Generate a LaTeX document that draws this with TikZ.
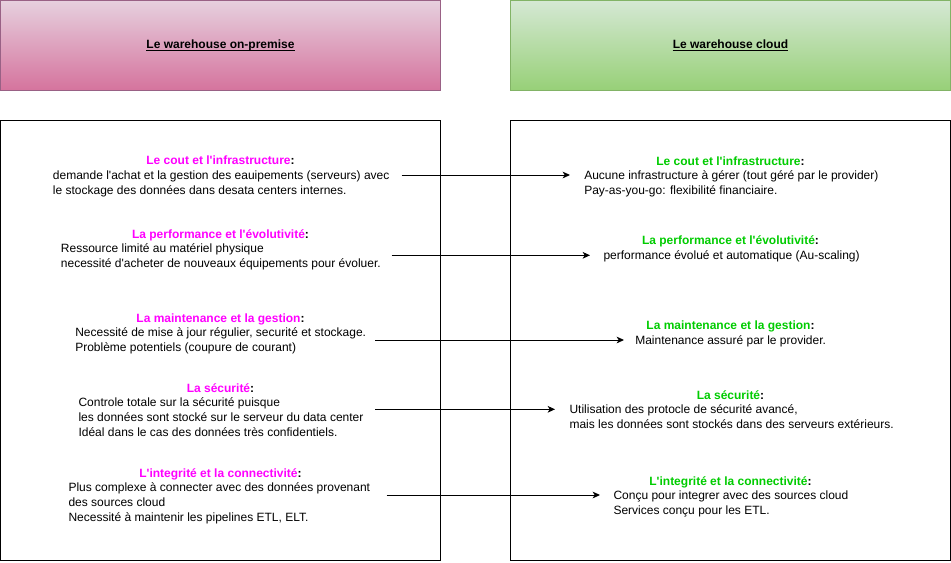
\documentclass[tikz,border=0pt]{standalone}
\usepackage{fontspec}
\setmainfont{Liberation Sans}[Ligatures=TeXOff]
\usetikzlibrary{arrows.meta,calc}
\definecolor{pinktop}{HTML}{E6D0DE}
\definecolor{pinkbot}{HTML}{D5739D}
\definecolor{pinkline}{HTML}{996185}
\definecolor{greentop}{HTML}{D5E8D4}
\definecolor{greenbot}{HTML}{97D077}
\definecolor{greenline}{HTML}{82B366}
\definecolor{lmag}{HTML}{FF00FF}
\definecolor{rgreen}{HTML}{00CC00}
\tikzset{
  txt/.style={inner sep=0pt, font=\fontsize{9pt}{11.25pt}\selectfont},
  hdrbox/.style={rectangle, minimum width=330pt, minimum height=67.5pt, inner sep=0pt, line width=0.75pt},
  bigbox/.style={rectangle, draw=black, fill=white, minimum width=330pt, minimum height=330pt, inner sep=0pt, line width=0.75pt},
  title/.style={txt, anchor=base, font=\fontsize{9pt}{11.25pt}\selectfont\bfseries},
  head/.style={txt, anchor=base, font=\fontsize{9pt}{11.25pt}\selectfont\bfseries},
  body/.style={txt, anchor=base west},
  uline/.style={line width=0.75pt, draw=black},
  conn/.style={line width=0.75pt, draw=black, -{Stealth[length=5.5pt,width=5pt,inset=1.5pt]}}
}
\newcommand{\lines}[1]{\begin{tabular}[t]{@{}l@{}}#1\end{tabular}}
\begin{document}
\begin{tikzpicture}[x=0.75pt,y=-0.75pt]
\useasboundingbox (0,0) rectangle (951,562);

% header boxes
\node[hdrbox, draw=pinkline, top color=pinktop, bottom color=pinkbot] (hl) at (220.5,45.5) {};
\node[hdrbox, draw=greenline, top color=greentop, bottom color=greenbot] (hr) at (730.5,45.5) {};
\node[title] (tl) at (220.5,48.5) {Le warehouse on-premise};
\node[title] (tr) at (730.5,48.5) {Le warehouse cloud};
\draw[uline] ($(tl.base west)+(0,1.8)$) -- ($(tl.base east)+(0,1.8)$);
\draw[uline] ($(tr.base west)+(0,1.8)$) -- ($(tr.base east)+(0,1.8)$);

% big boxes
\node[bigbox] (bl) at (220.5,340.5) {};
\node[bigbox] (br) at (730.5,340.5) {};

% left column
\node[head] (lh1) at (220.5,164.7) {\textcolor{lmag}{Le cout et l'infrastructure}:};
\node[body] (lb1) at (52.7,179) {\lines{demande l'achat et la gestion des eauipements (serveurs) avec\\le stockage des données dans desata centers internes.}};
\node[head] (lh2) at (220.5,238.7) {\textcolor{lmag}{La performance et l'évolutivité}:};
\node[body] (lb2) at (60.7,252.7) {\lines{Ressource limité au matériel physique\\necessité d'acheter de nouveaux équipements pour évoluer.}};
\node[head] (lh3) at (220.5,322.7) {\textcolor{lmag}{La maintenance et la gestion}:};
\node[body] (lb3) at (75,336.7) {\lines{Necessité de mise à jour régulier, securité et stockage.\\Problème potentiels (coupure de courant)}};
\node[head] (lh4) at (220.5,392.3) {\textcolor{lmag}{La sécurité}:};
\node[body] (lb4) at (78.3,406.7) {\lines{Controle totale sur la sécurité puisque\\les données sont stocké sur le serveur du data center\\Idéal dans le cas des données très confidentiels.}};
\node[head] (lh5) at (220.5,477.3) {\textcolor{lmag}{L'integrité et la connectivité}:};
\node[body] (lb5) at (68.3,491.7) {\lines{Plus complexe à connecter avec des données provenant\\des sources cloud\\Necessité à maintenir les pipelines ETL, ELT.}};

% right column
\node[head] (rh1) at (730.5,165) {\textcolor{rgreen}{Le cout et l'infrastructure}:};
\node[body] (rb1) at (584,179) {\lines{Aucune infrastructure à gérer (tout géré par le provider)\\Pay-as-you-go: flexibilité financiaire.}};
\node[head] (rh2) at (730.5,244) {\textcolor{rgreen}{La performance et l'évolutivité}:};
\node[body] (rb2) at (603.3,259) {\lines{performance évolué et automatique (Au-scaling)}};
\node[head] (rh3) at (730.5,329.3) {\textcolor{rgreen}{La maintenance et la gestion}:};
\node[body] (rb3) at (635,344.3) {\lines{Maintenance assuré par le provider.}};
\node[head] (rh4) at (730.5,399.3) {\textcolor{rgreen}{La sécurité}:};
\node[body] (rb4) at (569.3,413.3) {\lines{Utilisation des protocle de sécurité avancé,\\mais les données sont stockés dans des serveurs extérieurs.}};
\node[head] (rh5) at (730.5,485) {\textcolor{rgreen}{L'integrité et la connectivité}:};
\node[body] (rb5) at (613.3,499.3) {\lines{Conçu pour integrer avec des sources cloud\\Services conçu pour les ETL.}};

% connectors
\coordinate (a1s) at (401.7,175);   \coordinate (a1e) at (570,175);
\coordinate (a2s) at (391.7,255.3); \coordinate (a2e) at (590,255.3);
\coordinate (a3s) at (375,340);     \coordinate (a3e) at (624,340);
\coordinate (a4s) at (375,409.3);   \coordinate (a4e) at (555,409.3);
\coordinate (a5s) at (386.7,495);   \coordinate (a5e) at (600,495);
\draw[conn] (a1s) -- (a1e);
\draw[conn] (a2s) -- (a2e);
\draw[conn] (a3s) -- (a3e);
\draw[conn] (a4s) -- (a4e);
\draw[conn] (a5s) -- (a5e);
\end{tikzpicture}
\end{document}
